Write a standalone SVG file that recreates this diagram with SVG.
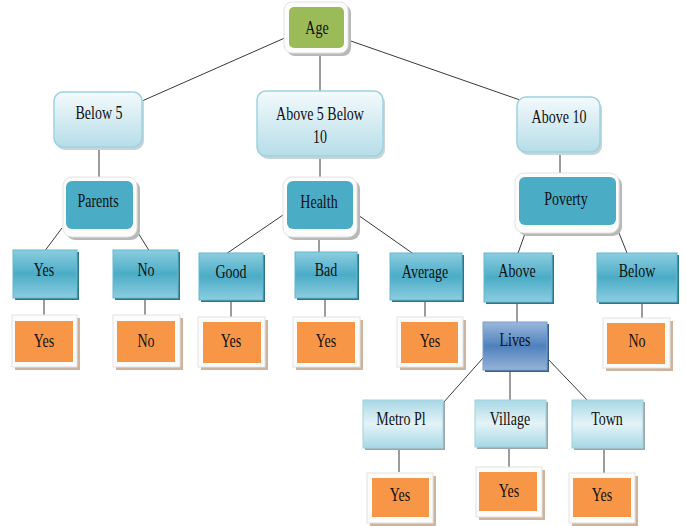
<svg xmlns="http://www.w3.org/2000/svg" width="686" height="526" viewBox="0 0 686 526">
<defs>
<linearGradient id="gLight" x1="0" y1="0" x2="0" y2="1"><stop offset="0" stop-color="#f3fafc"/><stop offset="1" stop-color="#b6dde8"/></linearGradient>
<linearGradient id="gTeal" x1="0" y1="0" x2="0" y2="1"><stop offset="0" stop-color="#8ccde0"/><stop offset="0.5" stop-color="#4bacc6"/><stop offset="1" stop-color="#8ccde0"/></linearGradient>
<linearGradient id="gBlue" x1="0" y1="0" x2="0" y2="1"><stop offset="0" stop-color="#9bb8dc"/><stop offset="0.5" stop-color="#4f81bd"/><stop offset="1" stop-color="#95b3d7"/></linearGradient>
<linearGradient id="gPale" x1="0" y1="0" x2="0" y2="1"><stop offset="0" stop-color="#a8d8e5"/><stop offset="0.5" stop-color="#e4f3f7"/><stop offset="1" stop-color="#a8d8e5"/></linearGradient>
</defs>
<style>
.t{font-family:"Liberation Serif","Times New Roman",serif;font-size:14px;fill:#111;text-anchor:middle;transform-box:fill-box;transform-origin:center;transform:scale(1,1.4)}
.lt{fill:url(#gLight);stroke:#9dd3e0;stroke-width:1.5}
.ltS{fill:#c9d4d8}
.frame{fill:#fcfcfc;stroke:#e2e2e2;stroke-width:1}
.frameS{fill:#b8b8b8}
.teal2{fill:#4bacc6}
.teal3{fill:url(#gTeal);stroke:#62b8cf;stroke-width:1}
.teal3S{fill:#2f7589}
.blue{fill:url(#gBlue);stroke:#7a9fcc;stroke-width:1}
.blueS{fill:#385d8a}
.pale{fill:url(#gPale);stroke:#9fd2df;stroke-width:1}
.paleS{fill:#9aa6aa}
.green{fill:#9bbb59}
.org{fill:#f79646}
.orgS{fill:#cfb39a}
.c line{stroke:#3a3a3a;stroke-width:1}
</style>
<g class="c" id="connectors">
<line x1="287" y1="37" x2="142" y2="101"/>
<line x1="320" y1="53" x2="320" y2="91"/>
<line x1="348" y1="40" x2="520" y2="100"/>
<line x1="99" y1="147" x2="99" y2="177"/>
<line x1="320" y1="156" x2="320" y2="177"/>
<line x1="560" y1="152" x2="560" y2="173"/>
<line x1="62" y1="228" x2="44" y2="252"/>
<line x1="135" y1="228" x2="150" y2="252"/>
<line x1="44" y1="298" x2="44" y2="323"/>
<line x1="145" y1="298" x2="145" y2="323"/>
<line x1="283" y1="215" x2="223" y2="256"/>
<line x1="319" y1="230" x2="319" y2="253"/>
<line x1="358" y1="215" x2="415" y2="255"/>
<line x1="231" y1="300" x2="231" y2="324"/>
<line x1="325" y1="298" x2="325" y2="324"/>
<line x1="425" y1="300" x2="425" y2="324"/>
<line x1="527" y1="228" x2="517" y2="256"/>
<line x1="617" y1="228" x2="627" y2="253"/>
<line x1="517" y1="302" x2="517" y2="322"/>
<line x1="642" y1="302" x2="642" y2="325"/>
<line x1="483" y1="358" x2="443" y2="403"/>
<line x1="510" y1="370" x2="510" y2="402"/>
<line x1="547" y1="358" x2="590" y2="403"/>
<line x1="399" y1="448" x2="399" y2="472"/>
<line x1="509" y1="447" x2="509" y2="470"/>
<line x1="604" y1="448" x2="604" y2="473"/>
</g>
<g id="age">
<rect class="frameS" x="287" y="5" width="64" height="51" rx="8"/>
<rect class="frame" x="284" y="2" width="64" height="51" rx="8"/>
<rect class="green" x="289" y="7" width="55" height="41" rx="5"/>
<text class="t" x="317" y="32">Age</text>
</g>
<g id="below5">
<rect class="ltS" x="56" y="95" width="88" height="55" rx="9"/>
<rect class="lt" x="54" y="92" width="88" height="55" rx="9"/>
<text class="t" x="99" y="117">Below 5</text>
</g>
<g id="above5below10">
<rect class="ltS" x="259" y="94" width="126" height="65" rx="9"/>
<rect class="lt" x="257" y="91" width="126" height="65" rx="9"/>
<text class="t" x="320" y="118">Above 5 Below</text>
<text class="t" x="320" y="141">10</text>
</g>
<g id="above10">
<rect class="ltS" x="519" y="100" width="83" height="55" rx="9"/>
<rect class="lt" x="517" y="97" width="83" height="55" rx="9"/>
<text class="t" x="559" y="121">Above 10</text>
</g>
<g id="parents">
<rect class="frameS" x="66" y="180" width="74" height="60" rx="9"/>
<rect class="frame" x="63" y="177" width="74" height="60" rx="9"/>
<rect class="teal2" x="66" y="181" width="67" height="48" rx="6"/>
<text class="t" x="98" y="205">Parents</text>
</g>
<g id="health">
<rect class="frameS" x="286" y="180" width="74" height="60" rx="9"/>
<rect class="frame" x="283" y="177" width="74" height="60" rx="9"/>
<rect class="teal2" x="287" y="181" width="66" height="48" rx="6"/>
<text class="t" x="319" y="206">Health</text>
</g>
<g id="poverty">
<rect class="frameS" x="518" y="176" width="104" height="60" rx="9"/>
<rect class="frame" x="515" y="173" width="104" height="60" rx="9"/>
<rect class="teal2" x="519" y="177" width="97" height="48" rx="6"/>
<text class="t" x="566" y="203">Poverty</text>
</g>
<g id="yes1">
<rect class="teal3S" x="15" y="252" width="64" height="48"/>
<rect class="teal3" x="13" y="250" width="64" height="48"/>
<text class="t" x="44" y="274">Yes</text>
</g>
<g id="no1">
<rect class="teal3S" x="115" y="252" width="65" height="48"/>
<rect class="teal3" x="113" y="250" width="65" height="48"/>
<text class="t" x="146" y="274">No</text>
</g>
<g id="good">
<rect class="teal3S" x="201" y="255" width="64" height="47"/>
<rect class="teal3" x="199" y="253" width="64" height="47"/>
<text class="t" x="231" y="276">Good</text>
</g>
<g id="bad">
<rect class="teal3S" x="297" y="254" width="62" height="46"/>
<rect class="teal3" x="295" y="252" width="62" height="46"/>
<text class="t" x="326" y="274">Bad</text>
</g>
<g id="average">
<rect class="teal3S" x="392" y="255" width="72" height="47"/>
<rect class="teal3" x="390" y="253" width="72" height="47"/>
<text class="t" x="425" y="276">Average</text>
</g>
<g id="above">
<rect class="teal3S" x="486" y="255" width="68" height="49"/>
<rect class="teal3" x="484" y="253" width="68" height="49"/>
<text class="t" x="517" y="275">Above</text>
</g>
<g id="below">
<rect class="teal3S" x="599" y="255" width="80" height="49"/>
<rect class="teal3" x="597" y="253" width="80" height="49"/>
<text class="t" x="637" y="275">Below</text>
</g>
<g id="lives">
<rect class="blueS" x="485" y="324" width="64" height="48"/>
<rect class="blue" x="483" y="322" width="64" height="48"/>
<text class="t" x="515" y="344">Lives</text>
</g>
<g id="metro">
<rect class="paleS" x="365" y="402" width="80" height="48"/>
<rect class="pale" x="363" y="400" width="80" height="48"/>
<text class="t" x="401" y="423">Metro Pl</text>
</g>
<g id="village">
<rect class="paleS" x="477" y="402" width="71" height="47"/>
<rect class="pale" x="475" y="400" width="71" height="47"/>
<text class="t" x="510" y="423">Village</text>
</g>
<g id="town">
<rect class="paleS" x="574" y="402" width="71" height="48"/>
<rect class="pale" x="572" y="400" width="71" height="48"/>
<text class="t" x="607" y="423">Town</text>
</g>
<g id="leafYes1">
<rect class="orgS" x="15" y="318" width="65" height="52"/>
<rect class="frame" x="12" y="315" width="65" height="52"/>
<rect class="org" x="15" y="321" width="58" height="41"/>
<text class="t" x="44" y="345">Yes</text>
</g>
<g id="leafNo1">
<rect class="orgS" x="116" y="318" width="67" height="52"/>
<rect class="frame" x="113" y="315" width="67" height="52"/>
<rect class="org" x="117" y="321" width="58" height="41"/>
<text class="t" x="146" y="345">No</text>
</g>
<g id="leafGood">
<rect class="orgS" x="201" y="320" width="67" height="50"/>
<rect class="frame" x="198" y="317" width="67" height="50"/>
<rect class="org" x="203" y="322" width="58" height="41"/>
<text class="t" x="231" y="345">Yes</text>
</g>
<g id="leafBad">
<rect class="orgS" x="296" y="320" width="67" height="50"/>
<rect class="frame" x="293" y="317" width="67" height="50"/>
<rect class="org" x="297" y="322" width="58" height="41"/>
<text class="t" x="326" y="345">Yes</text>
</g>
<g id="leafAverage">
<rect class="orgS" x="400" y="320" width="66" height="50"/>
<rect class="frame" x="397" y="317" width="66" height="50"/>
<rect class="org" x="401" y="322" width="57" height="41"/>
<text class="t" x="430" y="345">Yes</text>
</g>
<g id="leafBelow">
<rect class="orgS" x="606" y="321" width="67" height="50"/>
<rect class="frame" x="603" y="318" width="67" height="50"/>
<rect class="org" x="607" y="323" width="58" height="41"/>
<text class="t" x="637" y="345">No</text>
</g>
<g id="leafMetro">
<rect class="orgS" x="370" y="476" width="66" height="50"/>
<rect class="frame" x="367" y="473" width="66" height="50"/>
<rect class="org" x="372" y="478" width="57" height="39"/>
<text class="t" x="400" y="499">Yes</text>
</g>
<g id="leafVillage">
<rect class="orgS" x="479" y="470" width="66" height="50"/>
<rect class="frame" x="476" y="467" width="66" height="50"/>
<rect class="org" x="479" y="472" width="58" height="39"/>
<text class="t" x="509" y="495">Yes</text>
</g>
<g id="leafTown">
<rect class="orgS" x="572" y="476" width="66" height="50"/>
<rect class="frame" x="569" y="473" width="66" height="50"/>
<rect class="org" x="573" y="478" width="58" height="39"/>
<text class="t" x="602" y="499">Yes</text>
</g>
</svg>
